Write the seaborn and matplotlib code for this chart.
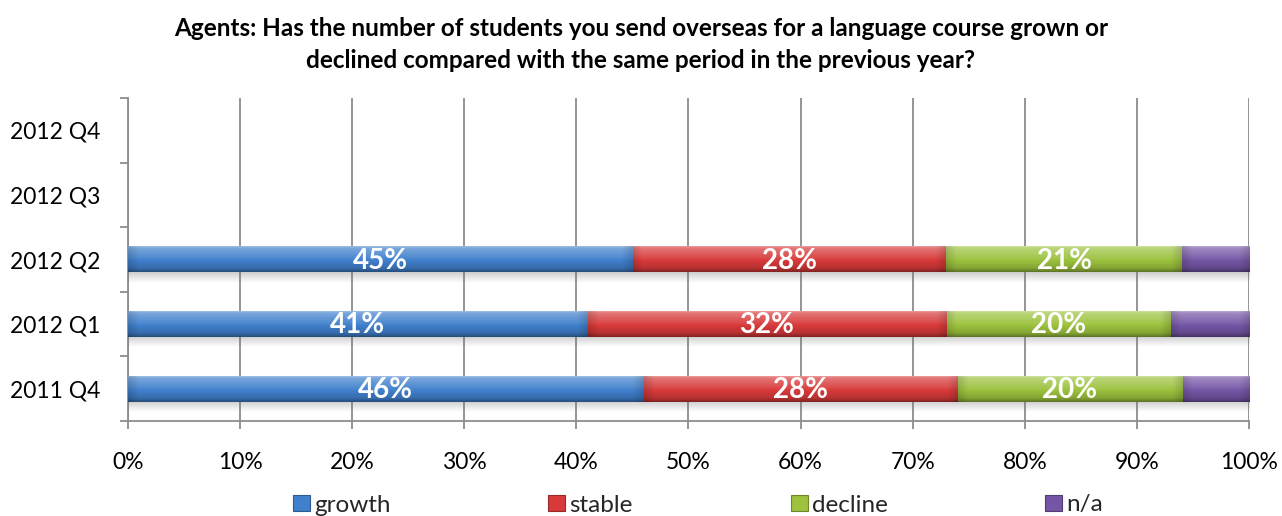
import numpy as np
import pandas as pd
import matplotlib
matplotlib.use("Agg")
import matplotlib.pyplot as plt
import seaborn as sns
from matplotlib.patches import Patch
from matplotlib.colors import to_rgb

# Survey periods (top to bottom) and the periods that have answers
quarters = ["2012 Q4", "2012 Q3", "2012 Q2", "2012 Q1", "2011 Q4"]
answered = ["2012 Q2", "2012 Q1", "2011 Q4"]

# Share of agents per answer, in percent
growth = [45, 41, 46]
stable = [28, 32, 28]
decline = [21, 20, 20]
na = [6, 7, 6]

series_names = ["growth", "stable", "decline", "n/a"]
series_colors = ["#4080cc", "#d83a3a", "#9cc23e", "#7556a6"]
labelled = [True, True, True, False]

x_ticks = list(range(0, 101, 10))
x_tick_labels = [f"{t}%" for t in x_ticks]

title_lines = [
    "Agents: Has the number of students you send overseas for a language course grown or",
    "declined compared with the same period in the previous year?",
]

sns.set_theme(style="white")
plt.rcParams["font.family"] = ["Lato", "DejaVu Sans"]

GRID = "#8c8c8c"
BAR_H = 0.4

values = np.array([growth, stable, decline, na], dtype=float)
ends = values.cumsum(axis=0)
starts = ends - values


def bevel_image(color, width_units, nx=300, ny=60):
    """RGB array giving a bar segment a glossy, chamfered look."""
    base = np.array(to_rgb(color))
    t = np.linspace(0, 1, ny)
    prof = np.interp(t, [0, 0.06, 0.14, 0.45, 0.55, 0.85, 1.0],
                     [0.50, 0.32, 0.26, 0.08, 0.0, -0.15, -0.40])[:, None]
    col = np.where(prof >= 0, base + (1 - base) * prof, base * (1 + prof))
    img = np.repeat(col[:, None, :], nx, axis=1)
    x = np.linspace(0, width_units, nx)
    d = np.minimum(x, width_units - x)
    edge = np.clip(1 - d / 0.9, 0, 1) * 0.14
    img = img * (1 - edge[None, :, None])
    return np.clip(img, 0, 1)


fig = plt.figure(figsize=(12.82, 5.16), dpi=100)
ax = fig.add_axes([0.0998, 0.184, 0.8745, 0.626])

# Stacked bars: cumulative totals, widest first, each later one drawn on top
for i in reversed(range(len(series_names))):
    df = pd.DataFrame({"quarter": answered, "end": ends[i]})
    n_before = len(ax.patches)
    z = 10 - 2 * i
    sns.barplot(data=df, x="end", y="quarter", order=quarters, orient="h",
                color=series_colors[i], saturation=1, width=BAR_H,
                errorbar=None, ax=ax, zorder=z, linewidth=0)
    for p in ax.patches[n_before:]:
        yc = p.get_y() + p.get_height() / 2
        row = answered.index(quarters[int(round(yc))])
        x0, x1 = starts[i][row], ends[i][row]
        y0, h = p.get_y(), p.get_height()
        ax.imshow(bevel_image(series_colors[i], x1 - x0),
                  extent=(x0, x1, y0 + h, y0), origin="upper",
                  aspect="auto", zorder=z + 0.5, interpolation="bilinear")

# soft drop shadow under each bar
for q in answered:
    yb = quarters.index(q) + BAR_H / 2
    ny = 20
    sh = np.zeros((ny, 1, 4))
    sh[..., :3] = 0.45
    sh[:, 0, 3] = np.linspace(0.35, 0.0, ny)
    ax.imshow(sh, extent=(0, 100, yb + 0.16, yb), origin="upper",
              aspect="auto", zorder=1.5, interpolation="bilinear")

# value labels centred in each answer segment
for i, show in enumerate(labelled):
    if not show:
        continue
    for row, q in enumerate(answered):
        v = values[i][row]
        ax.text(starts[i][row] + v / 2, quarters.index(q) + 0.02, f"{v:.0f}%",
                ha="center", va="center", color="white", fontsize=20,
                fontweight="bold", zorder=30)

ax.set_xlim(0, 100)
ax.set_ylim(len(quarters) - 0.5, -0.5)
ax.set_xlabel("")
ax.set_ylabel("")

ax.set_xticks(x_ticks)
ax.set_xticklabels(x_tick_labels)
ax.set_yticks(range(len(quarters)))
ax.set_yticklabels(quarters)
ax.set_yticks(np.arange(-0.5, len(quarters), 1.0), minor=True)

ax.xaxis.grid(True, color=GRID, linewidth=1.3)
ax.yaxis.grid(False)
ax.set_axisbelow(True)

for side in ["top", "right"]:
    ax.spines[side].set_visible(False)
for side in ["left", "bottom"]:
    ax.spines[side].set_color(GRID)
    ax.spines[side].set_linewidth(1.3)
    ax.spines[side].set_zorder(0.6)

ax.tick_params(axis="x", which="major", direction="out", length=6,
               width=1.3, color=GRID, labelsize=16.5, labelcolor="black",
               pad=16, bottom=True)
ax.tick_params(axis="y", which="major", length=0, labelsize=16.5,
               labelcolor="black", pad=20)
ax.tick_params(axis="y", which="minor", direction="out", length=6,
               width=1.3, color=GRID, left=True)

for line, yp in zip(title_lines, [28, 60]):
    fig.text(0.5, 1 - yp / 516, line, ha="center", va="center",
             fontsize=17.5, fontweight="bold", color="black")

handles = [Patch(facecolor=c, edgecolor=tuple(np.array(to_rgb(c)) * 0.7),
                 linewidth=0.8) for c in series_colors]
fig.legend(handles, series_names, loc="center",
           bbox_to_anchor=(698 / 1282, 1 - 505 / 516), ncol=4, frameon=False,
           handlelength=0.7, handleheight=0.65, handletextpad=0.16,
           columnspacing=6.5, fontsize=17.5, borderpad=0.1)

fig.savefig("out.png", dpi=100)
